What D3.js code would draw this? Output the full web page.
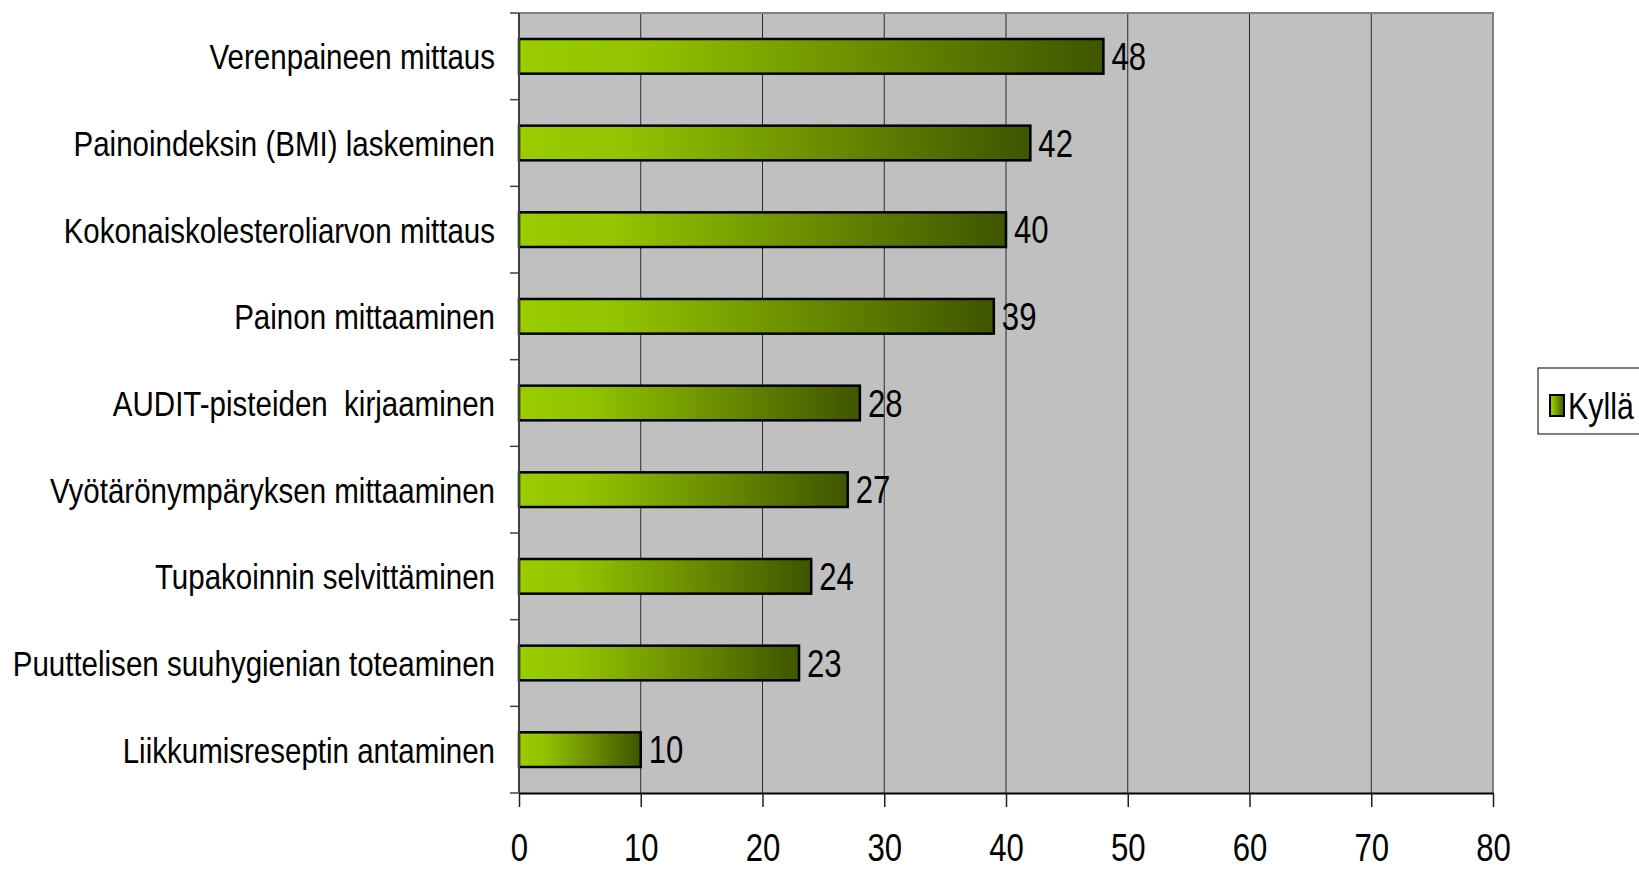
<!DOCTYPE html>
<html>
<head>
<meta charset="utf-8">
<script src="https://cdn.jsdelivr.net/npm/d3@7"></script>
<style>
  html, body { margin: 0; padding: 0; background: #fff; }
  svg { display: block; }
  text { font-family: "Liberation Sans Narrow", "Arial Narrow", "Liberation Sans", Arial, sans-serif; fill: #000; white-space: pre; }
</style>
</head>
<body>
<svg id="chart" width="1639" height="871"></svg>
<script>
const categories = [
  "Verenpaineen mittaus",
  "Painoindeksin (BMI) laskeminen",
  "Kokonaiskolesteroliarvon mittaus",
  "Painon mittaaminen",
  "AUDIT-pisteiden  kirjaaminen",
  "Vyötärönympäryksen mittaaminen",
  "Tupakoinnin selvittäminen",
  "Puuttelisen suuhygienian toteaminen",
  "Liikkumisreseptin antaminen"
];
const values = [48, 42, 40, 39, 28, 27, 24, 23, 10];
const xTicks = [0, 10, 20, 30, 40, 50, 60, 70, 80];
const seriesName = "Kyllä";

(function () {
const svg = d3.select("#chart");
const pL = 519, pR = 1493, pT = 13, pB = 793;
const SX = 0.82; // horizontal condensing to mimic a narrow face

const x = d3.scaleLinear().domain([0, 80]).range([pL, pR]);
const y = d3.scaleBand().domain(categories).range([pT, pB]).paddingInner(0.6).paddingOuter(0.3);
const yb = d3.scaleBand().domain(categories).range([pT, pB]);

const defs = svg.append("defs");
const grad = defs.append("linearGradient").attr("id", "barGrad")
  .attr("x1", "0%").attr("x2", "100%").attr("y1", "0%").attr("y2", "0%");
grad.append("stop").attr("offset", "0%").attr("stop-color", "#9acc00");
grad.append("stop").attr("offset", "20%").attr("stop-color", "#92c400");
grad.append("stop").attr("offset", "60%").attr("stop-color", "#6a8c00");
grad.append("stop").attr("offset", "100%").attr("stop-color", "#3f5500");

svg.append("rect").attr("x", pL).attr("y", pT).attr("width", pR - pL).attr("height", pB - pT)
  .attr("fill", "#c0c0c0");

svg.append("g").selectAll("line").data(xTicks.filter(t => t > 0 && t < 80)).join("line")
  .attr("x1", d => x(d)).attr("x2", d => x(d)).attr("y1", pT).attr("y2", pB)
  .attr("stroke", "#2a2a2a").attr("stroke-width", 1);

svg.append("path").attr("d", `M${pL},${pT}H${pR}V${pB}`)
  .attr("fill", "none").attr("stroke", "#808080").attr("stroke-width", 2);

svg.append("g").selectAll("rect").data(values).join("rect")
  .attr("x", x(0)).attr("y", (d, i) => y(categories[i]))
  .attr("width", d => x(d) - x(0)).attr("height", y.bandwidth())
  .attr("fill", "url(#barGrad)").attr("stroke", "#000").attr("stroke-width", 2.5);

svg.append("g").selectAll("text").data(values).join("text")
  .attr("transform", (d, i) => `translate(${x(d) + 8},${y(categories[i]) + y.bandwidth() / 2}) scale(${SX},1)`)
  .attr("dy", "0.36em").attr("font-size", 38).text(d => d);

const yAxisG = svg.append("g");
yAxisG.append("line").attr("x1", pL).attr("x2", pL).attr("y1", pT).attr("y2", pB)
  .attr("stroke", "#404040").attr("stroke-width", 2);
const bounds = categories.map(c => yb(c)).concat([pB]);
yAxisG.selectAll("line.t").data(bounds).join("line").attr("class", "t")
  .attr("x1", pL - 9).attr("x2", pL).attr("y1", d => d).attr("y2", d => d)
  .attr("stroke", "#404040").attr("stroke-width", 1.5);
yAxisG.selectAll("text").data(categories).join("text")
  .attr("transform", d => `translate(${pL - 24},${yb(d) + yb.bandwidth() / 2}) scale(${SX},1)`)
  .attr("dy", "0.36em").attr("text-anchor", "end").attr("font-size", 36).text(d => d);

const xAxisG = svg.append("g").attr("transform", `translate(0,${pB})`)
  .call(d3.axisBottom(x).tickValues(xTicks).tickSize(14).tickSizeOuter(0).tickPadding(27));
xAxisG.select(".domain").attr("stroke", "#000").attr("stroke-width", 2);
xAxisG.selectAll(".tick line").attr("stroke", "#202020").attr("stroke-width", 1.5);
xAxisG.selectAll(".tick text").attr("font-size", 38)
  .attr("transform", `scale(${SX},1)`)
  .attr("font-family", "'Liberation Sans Narrow', 'Arial Narrow', 'Liberation Sans', Arial, sans-serif").attr("fill", "#000");

const lg = svg.append("g");
lg.append("rect").attr("x", 1538).attr("y", 368).attr("width", 140).attr("height", 66)
  .attr("fill", "#fff").attr("stroke", "#000").attr("stroke-width", 1);
lg.append("rect").attr("x", 1550).attr("y", 395).attr("width", 14).attr("height", 21)
  .attr("fill", "url(#barGrad)").attr("stroke", "#000").attr("stroke-width", 2);
lg.append("text").attr("transform", `translate(1568,406) scale(${SX},1)`)
  .attr("dy", "0.36em").attr("font-size", 37).text(seriesName);
})();
</script>
</body>
</html>
